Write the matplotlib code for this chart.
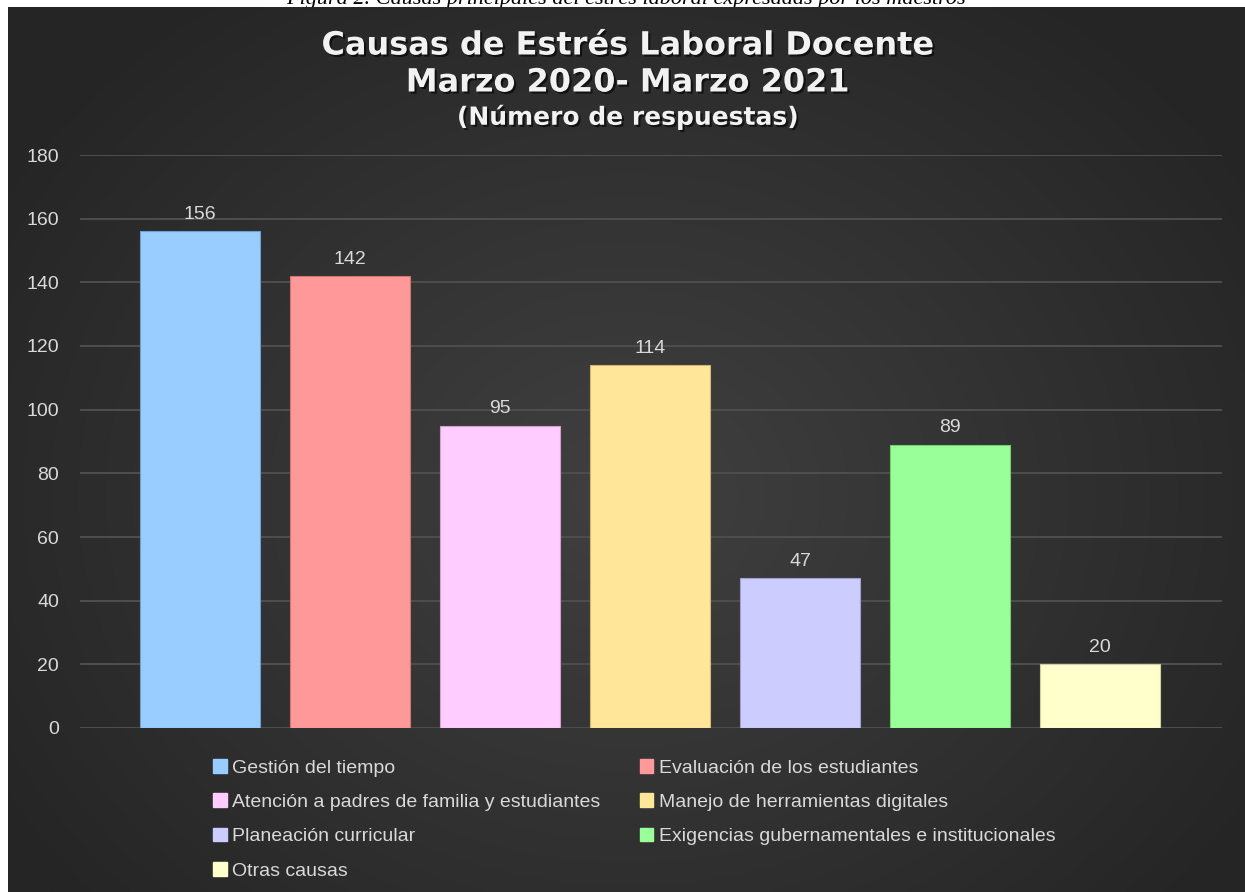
import numpy as np
import matplotlib
matplotlib.use("Agg")
import matplotlib.pyplot as plt
from matplotlib.patches import Patch
import matplotlib.patheffects as pe

# ---- data ----
categories = [
    "Gestión del tiempo",
    "Evaluación de los estudiantes",
    "Atención a padres de familia y estudiantes",
    "Manejo de herramientas digitales",
    "Planeación curricular",
    "Exigencias gubernamentales e institucionales",
    "Otras causas",
]
values = [156, 142, 95, 114, 47, 89, 20]
colors = ["#99CCFF", "#FF9999", "#FFCCFF", "#FFE699", "#CCCCFF", "#99FF99", "#FFFFCC"]
edges = ["#6F9FD0", "#D07575", "#D0A0D0", "#D0B870", "#A0A0D0", "#70D070", "#D0D0A0"]
yticks = [0, 20, 40, 60, 80, 100, 120, 140, 160, 180]
title_lines = ["Causas de Estrés Laboral Docente", "Marzo 2020- Marzo 2021", "(Número de respuestas)"]
caption = "Figura 2. Causas principales del estrés laboral expresadas por los maestros"

W, H = 1245, 892
fig = plt.figure(figsize=(W / 100, H / 100), dpi=100)
fig.patch.set_facecolor("white")

# caption (mostly hidden behind the dark panel, as in the reference)
fig.text(626 / W, 1 - 4 / H, caption, ha="center", va="baseline",
         fontsize=16, style="italic", family="Liberation Serif", color="black", zorder=-5)

# dark gradient panel
bg = fig.add_axes([8 / W, 0, 1 - 8 / W, 1 - 7 / H], zorder=-1)
bg.set_axis_off()
ny, nx = 300, 400
yy, xx = np.mgrid[0:ny, 0:nx]
cx, cy = nx * 0.5, ny * 0.55
d = np.sqrt(((xx - cx) / (nx * 0.6)) ** 2 + ((yy - cy) / (ny * 0.7)) ** 2)
d = np.clip(d, 0, 1)
c_in = np.array([0x40, 0x40, 0x40]) / 255
c_out = np.array([0x25, 0x25, 0x25]) / 255
img = c_in[None, None, :] * (1 - d[..., None]) + c_out[None, None, :] * d[..., None]
bg.imshow(img, aspect="auto", extent=[0, 1, 0, 1], interpolation="bilinear")
bg.set_xlim(0, 1)
bg.set_ylim(0, 1)

# main axes
ax = fig.add_axes([80 / W, 1 - 728 / H, (1222 - 80) / W, (728 - 155) / H], zorder=1)
ax.patch.set_alpha(0)
x = np.arange(len(categories))
bars = ax.bar(x, values, width=0.8, color=colors, edgecolor=edges, linewidth=0.8, zorder=3)
ax.set_xlim(-0.8, 6.813)
ax.set_ylim(0, 180)
ax.set_yticks(yticks)
ax.set_yticklabels([str(t) for t in yticks], fontsize=14, family="Liberation Sans", color="#D9D9D9")
ax.tick_params(axis="y", length=0, pad=15)
ax.set_xticks([])
for s in ax.spines.values():
    s.set_visible(False)
ax.grid(axis="y", color="#4E4E4E", linewidth=1.4, zorder=0)
ax.set_axisbelow(True)

for xi, v in zip(x, values):
    ax.annotate(str(v), (xi, v), xytext=(0, 6), textcoords="offset points",
                ha="center", va="bottom", fontsize=14, family="Liberation Sans",
                color="#D9D9D9", zorder=4)

# titles
shadow = [pe.withSimplePatchShadow(offset=(1.5, -1.5), shadow_rgbFace="black", alpha=0.6)]
fig.text(628 / W, 1 - 46 / H, title_lines[0], ha="center", va="center", fontsize=23,
         fontweight="bold", family="DejaVu Sans", color="#F2F2F2", path_effects=shadow)
fig.text(628 / W, 1 - 83 / H, title_lines[1], ha="center", va="center", fontsize=23,
         fontweight="bold", family="DejaVu Sans", color="#F2F2F2", path_effects=shadow)
fig.text(628 / W, 1 - 117 / H, title_lines[2], ha="center", va="center", fontsize=18,
         fontweight="bold", family="DejaVu Sans", color="#F2F2F2", path_effects=shadow)

# legend (row-major order with 2 columns)
handles = [Patch(facecolor=c, edgecolor=c) for c in colors]
order = [0, 2, 4, 6, 1, 3, 5]
leg = fig.legend([handles[i] for i in order], [categories[i] for i in order],
                 ncol=2, loc="upper left", bbox_to_anchor=(213 / W, 1 - 759 / H),
                 frameon=False, prop={"family": "Liberation Sans", "size": 14},
                 labelcolor="#D9D9D9", handlelength=0.7, handleheight=0.7,
                 handletextpad=0.3, columnspacing=2.0, labelspacing=0.86,
                 borderpad=0, borderaxespad=0)

fig.savefig("out.png", dpi=100, facecolor=fig.get_facecolor())
